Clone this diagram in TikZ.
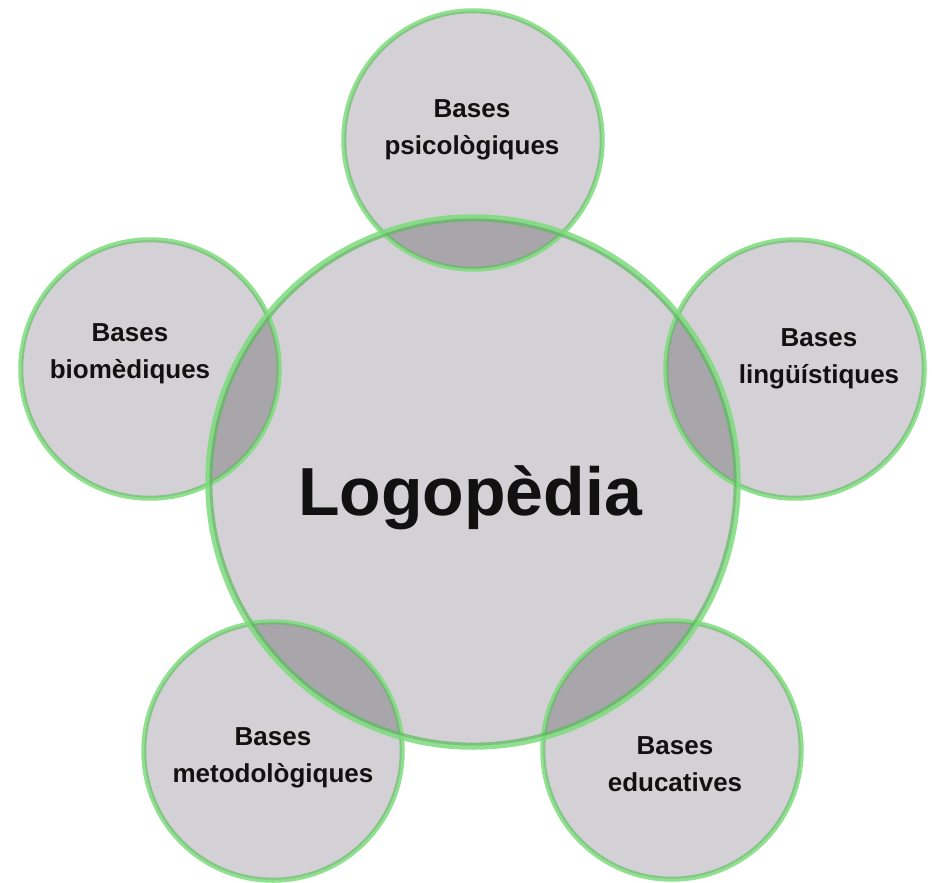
\documentclass[tikz,border=0pt]{standalone}
\usepackage{fontspec}
\setmainfont{Liberation Sans}
\definecolor{discfill}{RGB}{211,209,213}
\definecolor{lensfill}{RGB}{168,166,170}
\definecolor{ringgreen}{RGB}{124,220,124}
\definecolor{ringdark}{RGB}{92,186,92}
\definecolor{txt}{RGB}{17,17,17}
\tikzset{
  disc/.style={circle, inner sep=0pt, outer sep=0pt, fill=discfill, minimum size=258pt},
  bigdisc/.style={circle, inner sep=0pt, outer sep=0pt, fill=discfill, minimum size=528pt},
  ring/.style={draw=ringgreen, draw opacity=0.85, line width=3.5pt},
  ringin/.style={draw=ringdark, draw opacity=0.6, line width=1.8pt},
  bigring/.style={draw=ringgreen, draw opacity=0.85, line width=4.5pt},
  bigringin/.style={draw=ringdark, draw opacity=0.7, line width=2.8pt},
  lens/.style={fill=lensfill},
  lbl/.style={font=\bfseries\fontsize{26}{37}\selectfont, text=txt, align=center, inner sep=0pt},
  biglbl/.style={font=\bfseries\fontsize{68}{80}\selectfont, text=txt, inner sep=0pt, anchor=base}
}
\begin{document}
\begin{tikzpicture}[x=1pt, y=-1pt]
\useasboundingbox[fill=white] (0,0) rectangle (932,883);
% discs
\node[disc] (T) at (473,140) {};
\node[disc] (L) at (150,369) {};
\node[disc] (R) at (795,369) {};
\node[disc] (BL) at (273,751) {};
\node[disc] (BR) at (672,750) {};
\node[bigdisc] (C) at (473,482) {};
% overlaps
\begin{scope}
  \clip (C.center) circle (264pt);
  \fill[lens] (T.center) circle (129pt);
  \fill[lens] (L.center) circle (129pt);
  \fill[lens] (R.center) circle (129pt);
  \fill[lens] (BL.center) circle (129pt);
  \fill[lens] (BR.center) circle (129pt);
\end{scope}
% rings
\foreach \n in {T,L,R,BL,BR}{
  \draw[ring] (\n.center) circle (130pt);
  \draw[ringin] (\n.center) circle (127.6pt);
}
\draw[bigring] (C.center) circle (265.5pt);
\draw[bigringin] (C.center) circle (262pt);
% labels
\node[biglbl] (tc) at (470,515) {Logopèdia};
\node[lbl] (tt) at (472,130) {Bases\\psicològiques};
\node[lbl] (tl) at (130,353.5) {Bases\\biomèdiques};
\node[lbl] (tr) at (819,359) {Bases\\lingüístiques};
\node[lbl] (tbl) at (273,757.5) {Bases\\metodològiques};
\node[lbl] (tbr) at (675,763.7) {Bases\\educatives};
\end{tikzpicture}
\end{document}
